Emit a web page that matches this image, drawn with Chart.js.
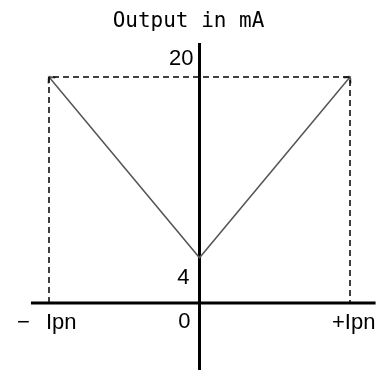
<!DOCTYPE html>
<html>
<head>
<meta charset="utf-8">
<script src="https://cdn.jsdelivr.net/npm/chart.js@4/dist/chart.umd.min.js"></script>
<style>
  html, body { margin: 0; padding: 0; background: #fff; }
  canvas { display: block; }
</style>
</head>
<body>
<canvas id="chart" width="391" height="370"></canvas>
<script>
// input current (in units of Ipn) and the output it gives (mA)
const currentIn = [-1, 0, 1];
const outputMA = [20, 4, 20];
const yTickValues = [20, 4, 0];
const xTickLabels = ['\u2212', 'Ipn', '+Ipn'];
const titleText = 'Output in mA';

// extent of the two drawn axis lines
const axisXRange = [-1.12, 1.17];
const axisYRange = [-6, 23];

const maxOut = Math.max(...outputMA);
const frame = [
  { x: currentIn[0], y: 0 },
  { x: currentIn[0], y: maxOut },
  { x: currentIn[2], y: maxOut },
  { x: currentIn[2], y: 0 }
];

// small open arrow head, tip in the middle of the image
const arrow = document.createElement('canvas');
arrow.width = 16;
arrow.height = 16;
(function () {
  const a = arrow.getContext('2d');
  a.strokeStyle = '#333';
  a.lineWidth = 1.6;
  a.beginPath();
  a.moveTo(3.5, 12.5);
  a.lineTo(8, 8);
  a.lineTo(12.5, 12.5);
  a.stroke();
})();

function arrowAngle(ctx) {
  const i = ctx.dataIndex;
  if (i === 1) return 0;
  const xs = ctx.chart.scales.x, ys = ctx.chart.scales.y;
  const dx = xs.getPixelForValue(currentIn[i]) - xs.getPixelForValue(currentIn[1]);
  const dy = ys.getPixelForValue(outputMA[1]) - ys.getPixelForValue(outputMA[i]);
  return Math.atan2(dx, dy) * 180 / Math.PI;
}

const labelPlugin = {
  id: 'labels',
  afterDraw(chart) {
    const c = chart.ctx;
    const xs = chart.scales.x, ys = chart.scales.y;
    const x0 = xs.getPixelForValue(0);
    c.save();
    c.fillStyle = '#000';
    c.textBaseline = 'middle';

    c.font = '21px "DejaVu Sans Mono", monospace';
    c.textAlign = 'center';
    c.fillText(titleText, x0 - 11, 22);

    c.font = '22px "Liberation Sans", Arial, sans-serif';
    c.textAlign = 'right';
    c.fillText(String(yTickValues[0]), x0 - 6, ys.getPixelForValue(yTickValues[0]) - 18);
    c.fillText(String(yTickValues[1]), x0 - 10, ys.getPixelForValue(yTickValues[1]) + 20);
    c.fillText(String(yTickValues[2]), x0 - 9, ys.getPixelForValue(yTickValues[2]) + 19);

    const yx = ys.getPixelForValue(0) + 20;
    c.textAlign = 'left';
    c.fillText(xTickLabels[0], xs.getPixelForValue(currentIn[0]) - 32, yx);
    c.fillText(xTickLabels[1], xs.getPixelForValue(currentIn[0]) - 3, yx);
    c.fillText(xTickLabels[2], xs.getPixelForValue(currentIn[2]) - 18, yx);
    c.restore();
  }
};

new Chart(document.getElementById('chart').getContext('2d'), {
  type: 'line',
  data: {
    datasets: [
      {
        label: 'frame',
        data: frame,
        borderColor: '#000',
        borderWidth: 1.5,
        borderDash: [6, 4],
        pointRadius: 0,
        fill: false
      },
      {
        label: 'output',
        data: currentIn.map((v, i) => ({ x: v, y: outputMA[i] })),
        borderColor: '#555',
        borderWidth: 1.5,
        pointStyle: arrow,
        pointRadius: ctx => (ctx.dataIndex === 1 ? 0 : 8),
        pointRotation: arrowAngle,
        clip: false,
        fill: false
      },
      {
        label: 'x axis',
        data: axisXRange.map(v => ({ x: v, y: 0 })),
        borderColor: '#000',
        borderWidth: 3,
        pointRadius: 0
      },
      {
        label: 'y axis',
        data: axisYRange.map(v => ({ x: 0, y: v })),
        borderColor: '#000',
        borderWidth: 3,
        pointRadius: 0
      }
    ]
  },
  options: {
    responsive: false,
    animation: false,
    layout: { padding: 0, autoPadding: false },
    plugins: {
      legend: { display: false },
      tooltip: { enabled: false }
    },
    scales: {
      x: { type: 'linear', min: -1.3256, max: 1.2724, display: false },
      y: { type: 'linear', min: -5.93, max: 26.81, display: false }
    }
  },
  plugins: [labelPlugin]
});
</script>
</body>
</html>
